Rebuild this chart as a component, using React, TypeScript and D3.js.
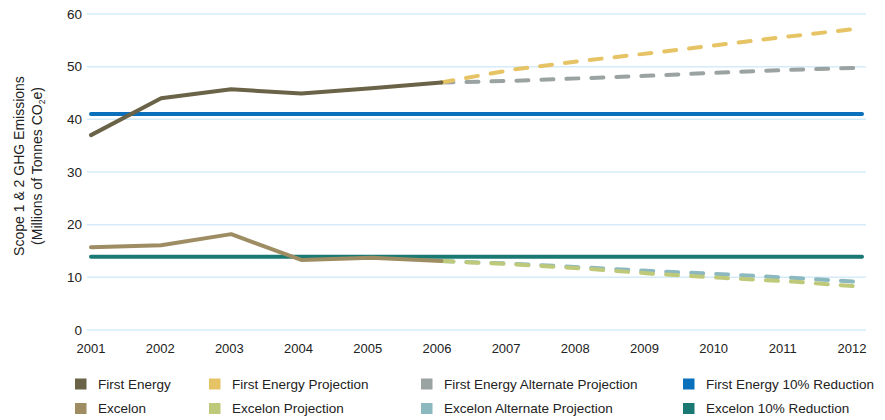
import React from "react";
import * as d3 from "d3";

const years = [2001, 2002, 2003, 2004, 2005, 2006, 2007, 2008, 2009, 2010, 2011, 2012];
const yTicks = [0, 10, 20, 30, 40, 50, 60];

const firstEnergyYears = [2001, 2002, 2003, 2004, 2005, 2006];
const firstEnergy = [37.0, 44.0, 45.7, 44.9, 45.9, 47.0];
const excelon = [15.7, 16.1, 18.2, 13.3, 13.7, 13.1];

const projYears = [2006, 2007, 2008, 2009, 2010, 2011, 2012];
const firstEnergyProjection = [47.0, 49.4, 51.1, 52.6, 54.2, 55.8, 57.3];
const firstEnergyAltProjection = [47.0, 47.3, 47.8, 48.3, 48.9, 49.4, 49.8];
const excelonProjection = [13.1, 12.5, 11.7, 10.7, 9.9, 9.2, 8.2];
const excelonAltProjection = [13.1, 12.6, 11.9, 11.2, 10.6, 9.9, 9.1];

const reductionYears = [2001, 2012];
const firstEnergyReduction = [41.0, 41.0];
const excelonReduction = [13.9, 13.9];

const legendRow1 = ["First Energy", "First Energy Projection", "First Energy Alternate Projection", "First Energy 10% Reduction"];
const legendRow2 = ["Excelon", "Excelon Projection", "Excelon Alternate Projection", "Excelon 10% Reduction"];
const legendColors1 = ["#6b6347", "#e6c466", "#9aa3a2", "#0a70bb"];
const legendColors2 = ["#9e8c63", "#bfc97a", "#8cb8c0", "#1a7a73"];

export default function App() {
  const W = 885, H = 420;
  const x = d3.scaleLinear().domain([2001, 2012]).range([91, 862]);
  const xLabel = d3.scaleLinear().domain([2001, 2012]).range([91, 852]);
  const y = d3.scaleLinear().domain([0, 60]).range([330, 14]);
  const line = d3.line<[number, number]>().x(d => x(d[0])).y(d => y(d[1]));
  const pts = (xs: number[], vs: number[]) => xs.map((yr, i) => [yr, vs[i]] as [number, number]);

  const font = "'Liberation Sans', Arial, Helvetica, sans-serif";
  const legendX = [75, 209, 421, 683];

  const series = [
    { d: pts(reductionYears, firstEnergyReduction), c: legendColors1[3], dash: null },
    { d: pts(reductionYears, excelonReduction), c: legendColors2[3], dash: null },
    { d: pts(projYears, firstEnergyAltProjection), c: legendColors1[2], dash: "12 13" },
    { d: pts(projYears, firstEnergyProjection), c: legendColors1[1], dash: "12 13" },
    { d: pts(projYears, excelonAltProjection), c: legendColors2[2], dash: "12 13" },
    { d: pts(projYears, excelonProjection), c: legendColors2[1], dash: "12 13" },
    { d: pts(firstEnergyYears, firstEnergy), c: legendColors1[0], dash: null },
    { d: pts(firstEnergyYears, excelon), c: legendColors2[0], dash: null },
  ];

  return (
    <svg width={W} height={H} style={{ position: "absolute", left: 0, top: 0 }} fontFamily={font}>
      <rect width={W} height={H} fill="#fff" />
      {yTicks.map(t => (
        <g key={t}>
          <line x1={87} x2={866} y1={y(t)} y2={y(t)} stroke="#d5ecf8" strokeWidth={1.5} />
          <text x={82} y={y(t) + 4.5} textAnchor="end" fontSize={13.5} fill="#222">{t}</text>
        </g>
      ))}
      {years.map(yr => (
        <text key={yr} x={xLabel(yr)} y={353} textAnchor="middle" fontSize={13} fill="#222">{yr}</text>
      ))}
      <g transform="translate(23.5,166) rotate(-90)">
        <text x={0} y={0} textAnchor="middle" fontSize={14} fill="#222">Scope 1 &amp; 2 GHG Emissions</text>
        <text x={0} y={18} textAnchor="middle" fontSize={14} fill="#222">
          (Millions of Tonnes CO<tspan fontSize={8.5} dy={3}>2</tspan><tspan dy={-3}>e)</tspan>
        </text>
      </g>
      {series.map((s, i) => (
        <path key={i} d={line(s.d) || ""} fill="none" stroke={s.c} strokeWidth={4}
          strokeLinecap="round" strokeLinejoin="round" strokeDasharray={s.dash || undefined} />
      ))}
      {legendRow1.map((name, i) => (
        <g key={name}>
          <rect x={legendX[i]} y={378.5} width={11.5} height={11} fill={legendColors1[i]} />
          <text x={legendX[i] + 23} y={388.5} fontSize={13.5} fill="#222">{name}</text>
        </g>
      ))}
      {legendRow2.map((name, i) => (
        <g key={name}>
          <rect x={legendX[i]} y={403} width={11.5} height={11} fill={legendColors2[i]} />
          <text x={legendX[i] + 23} y={413} fontSize={13.5} fill="#222">{name}</text>
        </g>
      ))}
    </svg>
  );
}
